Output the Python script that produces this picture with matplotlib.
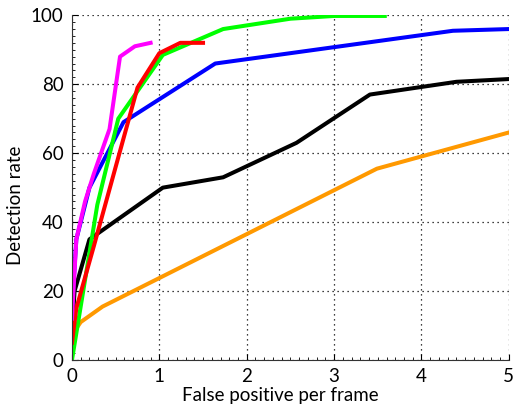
import matplotlib.pyplot as plt
from matplotlib.ticker import MultipleLocator

plt.rcParams['font.family'] = ['Lato', 'DejaVu Sans']

# curves: false positives per frame vs detection rate
mag_x = [0, 0.05, 0.15, 0.25, 0.43, 0.55, 0.72, 0.9]
mag_y = [12, 35, 46, 54, 67, 88, 91, 92]

red_x = [0, 0.05, 0.25, 0.75, 1.0, 1.24, 1.5]
red_y = [5, 15, 33, 79, 89, 92, 92]

green_x = [0, 0.29, 0.53, 1.04, 1.73, 2.5, 3.0, 3.58]
green_y = [0, 45, 70, 88.5, 96, 99, 99.8, 99.8]

blue_x = [0, 0.05, 0.2, 0.59, 1.64, 4.36, 5]
blue_y = [15, 35, 50, 69, 86, 95.5, 96]

black_x = [0, 0.03, 0.2, 1.04, 1.73, 2.57, 3.41, 4.4, 5]
black_y = [8, 20, 35, 50, 53, 63, 77, 80.7, 81.5]

orange_x = [0, 0.02, 0.1, 0.35, 3.49, 5]
orange_y = [3, 8, 11, 15.5, 55.5, 66]

fig = plt.figure(figsize=(5.14, 4.08), dpi=100)
ax = fig.add_axes([0.140, 0.1176, 0.850, 0.845])

lw = 2.9
ax.plot(orange_x, orange_y, color='#ff9900', lw=lw)
ax.plot(black_x, black_y, color='black', lw=lw)
ax.plot(blue_x, blue_y, color='#0000ff', lw=lw)
ax.plot(green_x, green_y, color='#00ff00', lw=lw)
ax.plot(red_x, red_y, color='#ff0000', lw=lw)
ax.plot(mag_x, mag_y, color='#ff00ff', lw=lw)

ax.set_xlim(0, 5)
ax.set_ylim(0, 100)
ax.xaxis.set_major_locator(MultipleLocator(1))
ax.yaxis.set_major_locator(MultipleLocator(20))
ax.xaxis.set_minor_locator(MultipleLocator(0.1))
ax.yaxis.set_minor_locator(MultipleLocator(2))

ax.grid(True, which='major', linestyle=(0, (1, 3)), color='black', lw=0.9)
ax.spines['top'].set_visible(False)
ax.spines['right'].set_visible(False)
for s in ['left', 'bottom']:
    ax.spines[s].set_color('#333333')
    ax.spines[s].set_linewidth(0.8)

ax.tick_params(which='both', direction='in', labelsize=13.5)
ax.tick_params(which='major', length=4, pad=6)
ax.tick_params(which='minor', length=2.5)

ax.set_xlabel('False positive per frame', fontsize=13.5)
ax.set_ylabel('Detection rate', fontsize=13.5)
ax.xaxis.set_label_coords(0.476, -0.079)
ax.yaxis.set_label_coords(-0.110, 0.45)

fig.savefig('out.png', dpi=100)
